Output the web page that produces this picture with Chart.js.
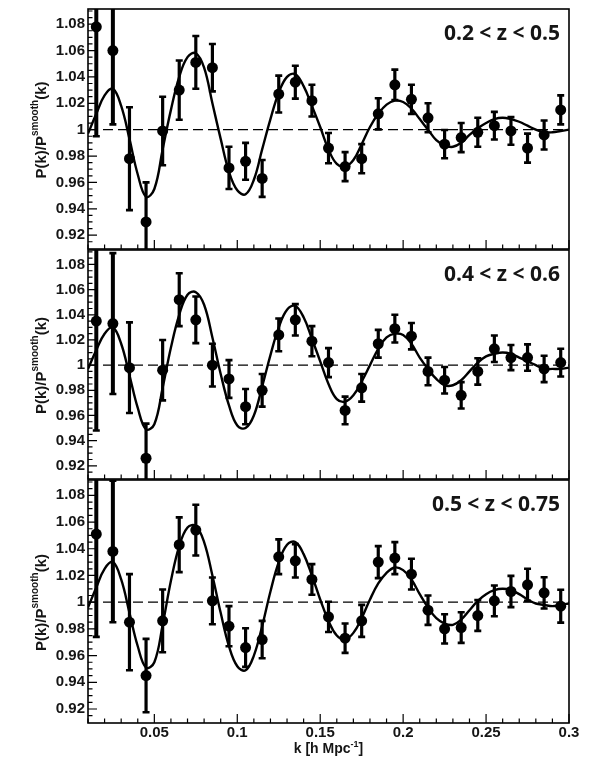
<!DOCTYPE html>
<html>
<head>
<meta charset="utf-8">
<script src="https://cdn.jsdelivr.net/npm/chart.js@4.4.1/dist/chart.umd.min.js"></script>
<style>
  html, body { margin: 0; padding: 0; background: #fff; }
  #wrap { position: relative; width: 600px; height: 763px; overflow: hidden; }
  .pan { position: absolute; left: 0; width: 600px; }
</style>
</head>
<body>
<div id="wrap">
  <!-- Cada lienzo sobresale 20px por arriba (y por abajo) de su área de dibujo -->
  <div class="pan" style="top:-11px;height:280px"><canvas id="c1"></canvas></div>
  <div class="pan" style="top:230px;height:269px"><canvas id="c2"></canvas></div>
  <div class="pan" style="top:460px;height:303px"><canvas id="c3"></canvas></div>
</div>
<script>
// Datos: k de los puntos medidos
const kPoints = [0.015, 0.025, 0.035, 0.045, 0.055, 0.065, 0.075, 0.085, 0.095, 0.105,
  0.115, 0.125, 0.135, 0.145, 0.155, 0.165, 0.175, 0.185, 0.195, 0.205,
  0.215, 0.225, 0.235, 0.245, 0.255, 0.265, 0.275, 0.285, 0.295];

// Datos: k del modelo suave
const kCurve = [0.010, 0.015, 0.020, 0.025, 0.030, 0.035, 0.040, 0.045, 0.050, 0.055,
  0.060, 0.065, 0.070, 0.075, 0.080, 0.085, 0.090, 0.095, 0.100, 0.105,
  0.110, 0.115, 0.120, 0.125, 0.130, 0.135, 0.140, 0.145, 0.150, 0.155,
  0.160, 0.165, 0.170, 0.175, 0.180, 0.185, 0.190, 0.195, 0.200, 0.205,
  0.210, 0.215, 0.220, 0.225, 0.230, 0.235, 0.240, 0.245, 0.250, 0.255,
  0.260, 0.265, 0.270, 0.275, 0.280, 0.285, 0.290, 0.295, 0.300];

// 0.2 < z < 0.5
const ratioA = [1.078, 1.060, 0.978, 0.930, 0.999, 1.030, 1.051, 1.047, 0.971, 0.976,
  0.963, 1.027, 1.036, 1.022, 0.986, 0.972, 0.978, 1.012, 1.034, 1.023,
  1.009, 0.989, 0.994, 0.998, 1.003, 0.999, 0.986, 0.996, 1.015];
const errA = [0.083, 0.056, 0.039, 0.030, 0.026, 0.0225, 0.020, 0.018, 0.016, 0.014,
  0.014, 0.014, 0.0125, 0.012, 0.0115, 0.011, 0.011, 0.0118, 0.0115, 0.011,
  0.011, 0.0107, 0.011, 0.011, 0.0105, 0.0105, 0.011, 0.011, 0.011];
const curveA = [0.997, 1.012, 1.026, 1.031, 1.018, 0.993, 0.966, 0.949, 0.955, 0.985,
  1.015, 1.040, 1.055, 1.058, 1.047, 1.020, 0.993, 0.968, 0.954, 0.951,
  0.962, 0.985, 1.008, 1.028, 1.040, 1.042, 1.033, 1.018, 1.002, 0.985,
  0.974, 0.972, 0.977, 0.989, 1.002, 1.012, 1.019, 1.022, 1.021, 1.016,
  1.008, 1.000, 0.992, 0.988, 0.987, 0.990, 0.996, 1.001, 1.005, 1.008,
  1.009, 1.008, 1.006, 1.003, 1.000, 0.998, 0.998, 0.999, 1.000];

// 0.4 < z < 0.6
const ratioB = [1.035, 1.033, 0.998, 0.926, 0.996, 1.052, 1.036, 1.000, 0.989, 0.967,
  0.980, 1.024, 1.036, 1.019, 1.002, 0.964, 0.982, 1.017, 1.029, 1.023,
  0.995, 0.988, 0.976, 0.995, 1.013, 1.006, 1.006, 0.997, 1.002];
const errB = [0.087, 0.056, 0.036, 0.0275, 0.024, 0.021, 0.0185, 0.017, 0.015, 0.014,
  0.013, 0.013, 0.0125, 0.012, 0.0115, 0.011, 0.011, 0.011, 0.011, 0.0105,
  0.011, 0.0105, 0.0105, 0.0105, 0.0105, 0.010, 0.0105, 0.0105, 0.011];
const curveB = [0.997, 1.012, 1.025, 1.030, 1.017, 0.992, 0.966, 0.949, 0.953, 0.982,
  1.014, 1.040, 1.056, 1.058, 1.048, 1.022, 0.993, 0.968, 0.952, 0.950,
  0.960, 0.983, 1.008, 1.030, 1.044, 1.047, 1.038, 1.021, 1.003, 0.985,
  0.973, 0.971, 0.976, 0.987, 1.000, 1.013, 1.022, 1.025, 1.024, 1.017,
  1.006, 0.997, 0.989, 0.984, 0.984, 0.988, 0.995, 1.002, 1.007, 1.009,
  1.010, 1.009, 1.006, 1.003, 1.000, 0.997, 0.997, 0.997, 0.998];

// 0.5 < z < 0.75
const ratioC = [1.051, 1.038, 0.985, 0.945, 0.986, 1.043, 1.054, 1.001, 0.982, 0.966,
  0.972, 1.034, 1.031, 1.017, 0.989, 0.973, 0.986, 1.030, 1.033, 1.021,
  0.994, 0.980, 0.981, 0.990, 1.001, 1.008, 1.013, 1.007, 0.997];
const errC = [0.077, 0.053, 0.036, 0.0275, 0.0235, 0.0205, 0.019, 0.0175, 0.015, 0.0145,
  0.014, 0.013, 0.0125, 0.0115, 0.0113, 0.011, 0.012, 0.012, 0.012, 0.0115,
  0.011, 0.011, 0.0115, 0.0115, 0.0115, 0.0117, 0.012, 0.0117, 0.0123];
const curveC = [0.996, 1.011, 1.025, 1.030, 1.017, 0.992, 0.967, 0.951, 0.955, 0.983,
  1.016, 1.042, 1.056, 1.057, 1.045, 1.020, 0.992, 0.967, 0.952, 0.949,
  0.960, 0.982, 1.008, 1.030, 1.043, 1.045, 1.036, 1.020, 1.002, 0.986,
  0.975, 0.972, 0.977, 0.988, 1.002, 1.014, 1.022, 1.026, 1.024, 1.017,
  1.006, 0.996, 0.988, 0.984, 0.983, 0.987, 0.994, 1.001, 1.006, 1.009,
  1.010, 1.009, 1.006, 1.002, 0.999, 0.998, 0.997, 0.998, 0.999];

// Ejes
const yTicks = [0.92, 0.94, 0.96, 0.98, 1.00, 1.02, 1.04, 1.06, 1.08];
const yTickLabels = ['0.92', '0.94', '0.96', '0.98', '1', '1.02', '1.04', '1.06', '1.08'];
const xTicks = [0.05, 0.10, 0.15, 0.20, 0.25, 0.30];
const xTickLabels = ['0.05', '0.1', '0.15', '0.2', '0.25', '0.3'];
const refLevel = 1;
const X_MIN = 0.01, X_MAX = 0.3, Y_MIN = 0.9095, Y_MAX = 1.0915;

const FONT = '"Liberation Sans", Arial, sans-serif';
const INK = '#000';
const TXT = '#151515';

/**
 * Plugin: barras de error, marco, marcas de los ejes y textos
 */
const decor = {
  id: 'decor',
  beforeDatasetsDraw(chart, args, o) {
    const ctx = chart.ctx, a = chart.chartArea;
    const xs = chart.scales.x, ys = chart.scales.y;
    ctx.save();
    ctx.beginPath();
    ctx.rect(a.left, a.top, a.right - a.left, a.bottom - a.top);
    ctx.clip();
    ctx.strokeStyle = INK;
    o.values.forEach((v, i) => {
      const x = xs.getPixelForValue(kPoints[i]);
      const y1 = ys.getPixelForValue(v + o.errors[i]);
      const y2 = ys.getPixelForValue(v - o.errors[i]);
      const w = o.errors[i] > 0.04 ? 4 : 3.2;
      ctx.lineWidth = w;
      ctx.beginPath();
      ctx.moveTo(x, y1);
      ctx.lineTo(x, y2);
      ctx.stroke();
      ctx.lineWidth = 2.6;
      ctx.beginPath();
      ctx.moveTo(x - 3.5, y1); ctx.lineTo(x + 3.5, y1);
      ctx.moveTo(x - 3.5, y2); ctx.lineTo(x + 3.5, y2);
      ctx.stroke();
    });
    ctx.restore();
  },
  afterDatasetsDraw(chart, args, o) {
    const ctx = chart.ctx, a = chart.chartArea;
    const xs = chart.scales.x, ys = chart.scales.y;
    ctx.save();
    ctx.strokeStyle = INK;
    ctx.lineWidth = 1.2;
    // Marcas del eje y (mayores y menores)
    ctx.beginPath();
    for (let i = 0; i < yTicks.length; i++) {
      const py = ys.getPixelForValue(yTicks[i]);
      ctx.moveTo(a.left, py); ctx.lineTo(a.left + 9, py);
    }
    for (let v = 0.915; v < Y_MAX; v += 0.005) {
      const py = ys.getPixelForValue(v);
      if (py > a.top && py < a.bottom) { ctx.moveTo(a.left, py); ctx.lineTo(a.left + 4.5, py); }
    }
    // Marcas del eje x
    for (let i = 1; i <= 30; i++) {
      const px = xs.getPixelForValue(i / 100);
      const len = i % 5 === 0 ? 9 : 4.5;
      ctx.moveTo(px, a.bottom); ctx.lineTo(px, a.bottom - len);
    }
    ctx.stroke();
    // Marco
    ctx.lineWidth = 1.6;
    ctx.strokeRect(a.left, a.top, a.right - a.left, a.bottom - a.top);

    // Etiqueta del panel
    ctx.fillStyle = TXT;
    ctx.font = 'bold 21px "Open Sans", "Noto Sans", sans-serif';
    ctx.textAlign = 'right';
    ctx.textBaseline = 'middle';
    ctx.fillText(o.label, a.right - 9, a.top + 25);

    // Título del eje y: P(k)/P^smooth(k)
    ctx.save();
    ctx.translate(40, (a.top + a.bottom) / 2 + 1);
    ctx.rotate(-Math.PI / 2);
    const big = 'bold 15px ' + FONT, small = 'bold 10px ' + FONT;
    ctx.font = big; const w1 = ctx.measureText('P(k)/P').width;
    const w3 = ctx.measureText('(k)').width;
    ctx.font = small; const w2 = ctx.measureText('smooth').width;
    let sx = -(w1 + w2 + w3) / 2;
    ctx.textAlign = 'left';
    ctx.textBaseline = 'alphabetic';
    ctx.font = big; ctx.fillText('P(k)/P', sx, 6);
    ctx.font = small; ctx.fillText('smooth', sx + w1, -2);
    ctx.font = big; ctx.fillText('(k)', sx + w1 + w2, 6);
    ctx.restore();

    // Título del eje x
    if (o.bottom) {
      const t1 = 'k [h Mpc', t2 = '-1', t3 = ']';
      const f1 = 'bold 14px ' + FONT, f2 = 'bold 9px ' + FONT;
      ctx.font = f1; const a1 = ctx.measureText(t1).width, a3 = ctx.measureText(t3).width;
      ctx.font = f2; const a2 = ctx.measureText(t2).width;
      let tx = (a.left + a.right) / 2 - (a1 + a2 + a3) / 2;
      const ty = chart.height - 10;
      ctx.textAlign = 'left';
      ctx.textBaseline = 'alphabetic';
      ctx.font = f1; ctx.fillText(t1, tx, ty);
      ctx.font = f2; ctx.fillText(t2, tx + a1, ty - 6);
      ctx.font = f1; ctx.fillText(t3, tx + a1 + a2, ty);
    }
    ctx.restore();
  }
};

function makePanel(id, values, errors, curve, label, bottom) {
  const ctx = document.getElementById(id);
  new Chart(ctx, {
    type: 'scatter',
    data: {
      datasets: [{
        label: 'ref',
        data: [{ x: X_MIN, y: refLevel }, { x: X_MAX, y: refLevel }],
        showLine: true,
        borderColor: INK,
        borderWidth: 1.4,
        borderDash: [10, 5],
        pointRadius: 0
      }, {
        label: 'modelo',
        data: kCurve.map((k, i) => ({ x: k, y: curve[i] })),
        showLine: true,
        borderColor: INK,
        borderWidth: 2.4,
        tension: 0.4,
        pointRadius: 0
      }, {
        label: 'datos',
        data: kPoints.map((k, i) => ({ x: k, y: values[i] })),
        backgroundColor: INK,
        borderWidth: 0,
        pointRadius: 5.5
      }]
    },
    options: {
      responsive: true,
      maintainAspectRatio: false,
      animation: false,
      layout: { padding: { top: 20, right: 31, bottom: bottom ? 0 : 20, left: 0 } },
      plugins: {
        legend: { display: false },
        tooltip: { enabled: false },
        decor: { values: values, errors: errors, label: label, bottom: bottom }
      },
      scales: {
        x: {
          type: 'linear', min: X_MIN, max: X_MAX,
          display: bottom,
          grid: { display: false, drawTicks: false }, border: { display: false },
          afterBuildTicks: s => { s.ticks = xTicks.map(v => ({ value: v })); },
          afterFit: s => { if (bottom) s.height = 40; },
          ticks: {
            callback: (v, i) => xTickLabels[i],
            autoSkip: false, maxRotation: 0, padding: 1,
            color: TXT, font: { family: FONT, size: 15, weight: 'bold' }
          }
        },
        y: {
          type: 'linear', min: Y_MIN, max: Y_MAX,
          grid: { display: false, drawTicks: false }, border: { display: false },
          afterBuildTicks: s => { s.ticks = yTicks.map(v => ({ value: v })); },
          afterFit: s => { s.width = 88; },
          ticks: {
            callback: (v, i) => yTickLabels[i],
            autoSkip: false, padding: 3,
            color: TXT, font: { family: FONT, size: 15, weight: 'bold' }
          }
        }
      }
    },
    plugins: [decor]
  });
}

makePanel('c1', ratioA, errA, curveA, '0.2 < z < 0.5', false);
makePanel('c2', ratioB, errB, curveB, '0.4 < z < 0.6', false);
makePanel('c3', ratioC, errC, curveC, '0.5 < z < 0.75', true);
</script>
</body>
</html>
